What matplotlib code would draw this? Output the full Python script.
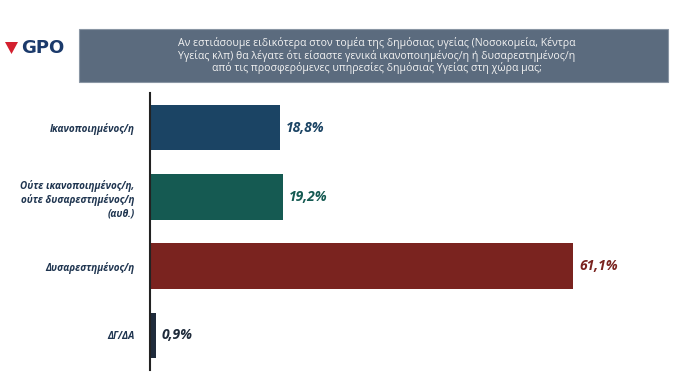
import matplotlib
matplotlib.use("Agg")
import matplotlib.pyplot as plt
from matplotlib.patches import Rectangle, Polygon

categories = ["Ικανοποιημένος/η",
              "Ούτε ικανοποιημένος/η,\nούτε δυσαρεστημένος/η\n(αυθ.)",
              "Δυσαρεστημένος/η",
              "ΔΓ/ΔΑ"]
values = [18.8, 19.2, 61.1, 0.9]
value_labels = ["18,8%", "19,2%", "61,1%", "0,9%"]
colors = ["#1b4464", "#155a52", "#7a231f", "#1f2b3b"]
title = ("Αν εστιάσουμε ειδικότερα στον τομέα της δημόσιας υγείας (Νοσοκομεία, Κέντρα\n"
         "Υγείας κλπ) θα λέγατε ότι είσαστε γενικά ικανοποιημένος/η ή δυσαρεστημένος/η\n"
         "από τις προσφερόμενες υπηρεσίες δημόσιας Υγείας στη χώρα μας;")

plt.rcParams['font.family'] = ['Open Sans', 'DejaVu Sans']

W, H = 674, 379
fig = plt.figure(figsize=(W / 100, H / 100), dpi=100)

ax = fig.add_axes([150 / W, 9 / H, 524 / W, 277 / H])
y = list(range(len(categories)))
ax.barh(y, values, height=0.66, color=colors)
ax.set_ylim(len(categories) - 0.5, -0.5)
ax.set_xlim(0, 524 / 6.93)
for s in ["top", "right", "bottom"]:
    ax.spines[s].set_visible(False)
ax.spines["left"].set_color("#222222")
ax.spines["left"].set_linewidth(1.5)
ax.set_xticks([])
ax.set_yticks(y)
ax.set_yticklabels(categories, fontsize=7.1, fontweight="bold", style="italic",
                   color="#1f3550", linespacing=1.3)
ax.tick_params(axis="y", length=0, pad=11)
for yi, v, lab, c in zip(y, values, value_labels, colors):
    ax.text(v + 0.8, yi, lab, va="center", ha="left", fontsize=10,
            fontweight="bold", style="italic", color=c)

# header box
fig.patches.append(Rectangle((79 / W, 1 - 82 / H), (668 - 79) / W, 53 / H,
                             transform=fig.transFigure, facecolor="#5b6b7e",
                             edgecolor="#8a96a4", linewidth=0.8))
fig.text((79 + 668) / 2 / W + 0.005, 1 - 55.5 / H, title, ha="center", va="center",
         fontsize=7.6, color="#f2f2f2", linespacing=1.1)

# logo
fig.patches.append(Polygon([(5 / W, 1 - 42 / H), (18 / W, 1 - 42 / H), (11.5 / W, 1 - 54 / H)],
                           closed=True, transform=fig.transFigure,
                           facecolor="#d3202f", edgecolor="none"))
fig.text(21 / W, 1 - 48 / H, "GPO", ha="left", va="center", fontsize=13,
         fontweight="bold", color="#1b3a6b", family="DejaVu Sans")

fig.savefig("out.png", dpi=100, facecolor="white")
